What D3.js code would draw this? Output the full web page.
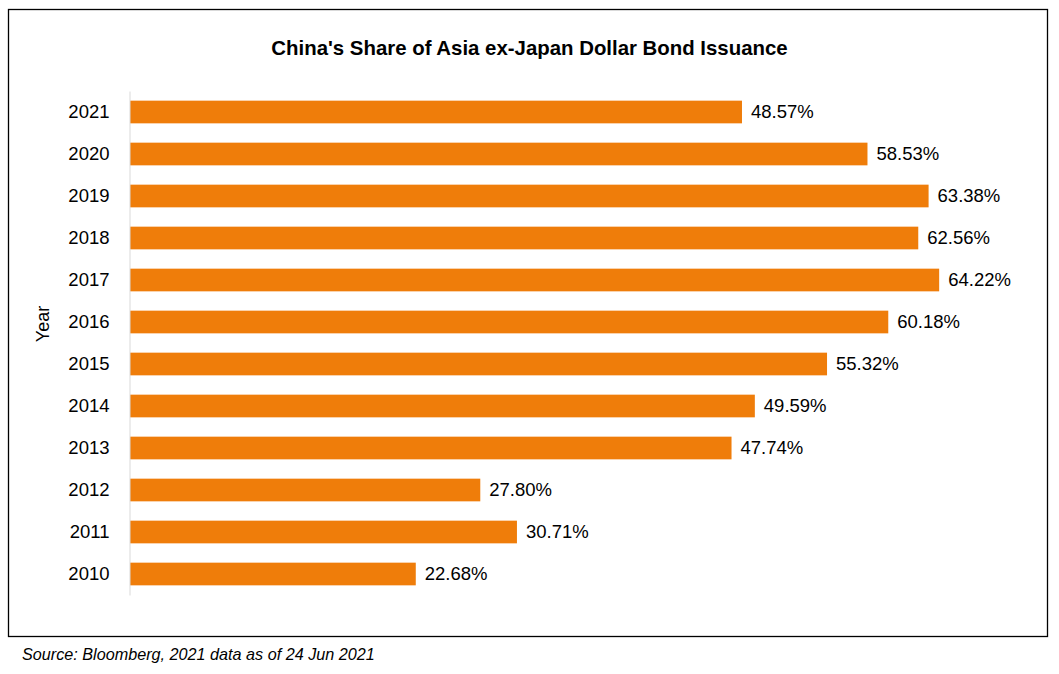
<!DOCTYPE html>
<html>
<head>
<meta charset="utf-8">
<script src="https://cdn.jsdelivr.net/npm/d3@7"></script>
<style>
  html, body { margin: 0; padding: 0; background: #fff; }
  svg { display: block; }
  text { font-family: "Liberation Sans", Arial, sans-serif; fill: #000; }
</style>
</head>
<body>
<svg id="chart" width="1059" height="674"></svg>
<script>
const years = ["2021","2020","2019","2018","2017","2016","2015","2014","2013","2012","2011","2010"];
const shares = [48.57, 58.53, 63.38, 62.56, 64.22, 60.18, 55.32, 49.59, 47.74, 27.80, 30.71, 22.68];
const titleText = "China's Share of Asia ex-Japan Dollar Bond Issuance";
const yAxisTitle = "Year";
const sourceText = "Source: Bloomberg, 2021 data as of 24 Jun 2021";

const svg = d3.select("#chart");
const data = years.map((y, i) => ({ year: y, value: shares[i] }));

// outer frame
svg.append("rect")
  .attr("x", 8.5).attr("y", 9.5)
  .attr("width", 1039).attr("height", 627)
  .attr("fill", "none").attr("stroke", "#000").attr("stroke-width", 1.3);

const x = d3.scaleLinear().domain([0, 70]).range([130, 1012]);
const y = d3.scaleBand().domain(years).range([91, 595]).paddingInner(0.46).paddingOuter(0.23);

// title
svg.append("text")
  .attr("x", 529.5).attr("y", 55)
  .attr("text-anchor", "middle")
  .style("font-weight", "bold").style("font-size", "20.4px")
  .text(titleText);

// bars
svg.append("g").selectAll("rect").data(data).join("rect")
  .attr("x", x(0))
  .attr("y", d => y(d.year))
  .attr("width", d => x(d.value) - x(0))
  .attr("height", y.bandwidth())
  .attr("fill", "#ef7d0a");

// value labels
svg.append("g").selectAll("text").data(data).join("text")
  .attr("x", d => x(d.value) + 9)
  .attr("y", d => y(d.year) + y.bandwidth() / 2)
  .attr("dy", "0.35em")
  .style("font-size", "18.5px")
  .text(d => d.value.toFixed(2) + "%");

// y axis
const yAxis = d3.axisLeft(y).tickSize(0).tickPadding(20);
const gy = svg.append("g").attr("transform", `translate(${x(0) - 0.5},0)`).call(yAxis);
gy.select(".domain").attr("stroke", "#d9d9d9").attr("stroke-width", 1);
gy.selectAll(".tick text")
  .style("font-size", "18.5px")
  .style("font-family", "'Liberation Sans', Arial, sans-serif")
  .attr("fill", "#000");

// y axis title
svg.append("text")
  .attr("transform", "translate(49,324) rotate(-90)")
  .attr("text-anchor", "middle")
  .style("font-size", "18px")
  .text(yAxisTitle);

// source
svg.append("text")
  .attr("x", 22).attr("y", 660)
  .style("font-style", "italic").style("font-size", "16.2px")
  .text(sourceText);
</script>
</body>
</html>
